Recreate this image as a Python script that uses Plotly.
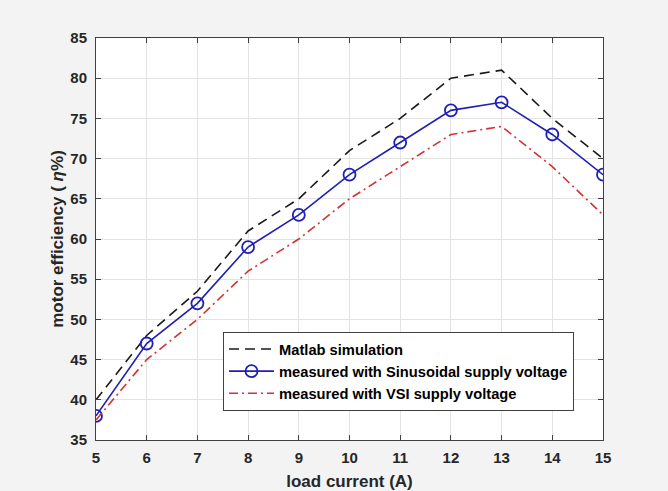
import plotly.graph_objects as go

load_current = [5, 6, 7, 8, 9, 10, 11, 12, 13, 14, 15]
matlab_sim = [40, 48, 53.5, 61, 65, 71, 75, 80, 81, 75, 70]
measured_sin = [38, 47, 52, 59, 63, 68, 72, 76, 77, 73, 68]
measured_vsi = [37.5, 45, 50, 56, 60, 65, 69, 73, 74, 69, 63]

x_ticks = list(range(5, 16))
y_ticks = list(range(35, 86, 5))

fig = go.Figure()
fig.add_trace(go.Scatter(x=load_current, y=matlab_sim, mode="lines",
                         name="Matlab simulation",
                         line=dict(color="#1a1a1a", width=1.6, dash="10px,6px")))
fig.add_trace(go.Scatter(x=load_current, y=measured_sin, mode="lines+markers",
                         name="measured with Sinusoidal supply voltage",
                         line=dict(color="#1f1fb4", width=1.6),
                         marker=dict(symbol="circle-open", size=12,
                                     color="#1f1fb4", line=dict(width=1.8))))
fig.add_trace(go.Scatter(x=load_current, y=measured_vsi, mode="lines",
                         name="measured with VSI supply voltage",
                         line=dict(color="#d23232", width=1.6,
                                   dash="9px,4px,2px,4px")))

axis_common = dict(showgrid=True, gridcolor="#e3e3e3", gridwidth=1,
                   showline=True, linecolor="#404040", linewidth=1,
                   mirror="ticks", ticks="inside", ticklen=5, tickcolor="#404040",
                   zeroline=False, automargin=False,
                   tickfont=dict(family="Liberation Sans, Arial", size=15,
                                 color="#262626", weight="bold"))

title_font = dict(family="Liberation Sans, Arial", size=17, color="#262626",
                  weight="bold")

fig.update_xaxes(range=[5, 15], tickvals=x_ticks, ticklabelstandoff=4,
                 title=dict(text="load current (A)", standoff=10, font=title_font),
                 **axis_common)
fig.update_yaxes(range=[35, 85], tickvals=y_ticks, ticklabelstandoff=5,
                 title=dict(text="motor efficiency ( <i>η</i>%)", standoff=2,
                            font=title_font),
                 **axis_common)

fig.update_layout(
    width=668, height=491,
    margin=dict(l=96, r=65, t=38, b=51),
    paper_bgcolor="#f3f3f3", plot_bgcolor="white",
    showlegend=True,
    legend=dict(x=0.2505, y=0.2687, xanchor="left", yanchor="top",
                bgcolor="white", bordercolor="#404040", borderwidth=1,
                font=dict(family="Liberation Sans, Arial", size=14.7,
                          color="#000000", weight="bold"),
                tracegroupgap=0, itemwidth=45),
)

fig.write_html("out.html",
               config={"displayModeBar": False},
               post_script="document.body.style.margin='0';"
                           "document.body.style.background='#f3f3f3';")
